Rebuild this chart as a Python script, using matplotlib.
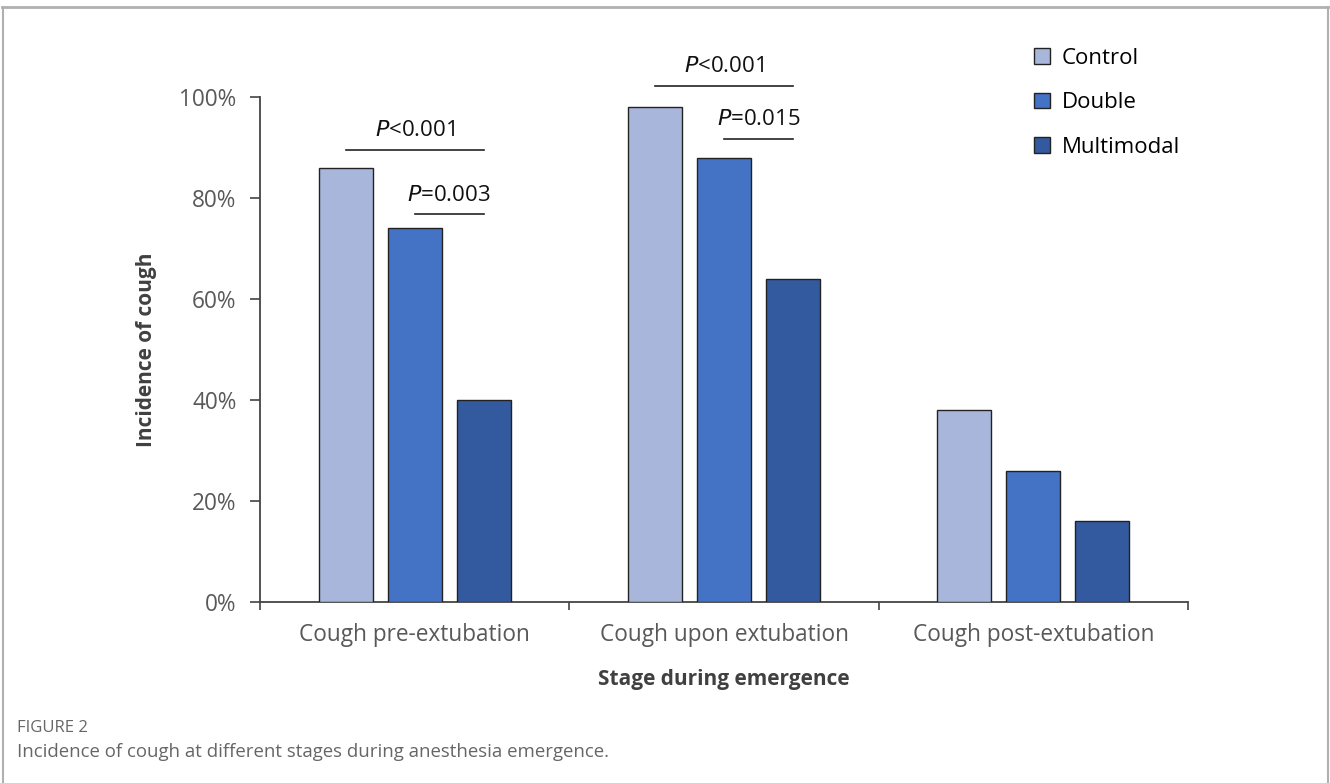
import matplotlib
matplotlib.use("Agg")
import matplotlib.pyplot as plt
from matplotlib.lines import Line2D
from matplotlib.patches import Patch
import numpy as np

categories = ["Cough pre-extubation", "Cough upon extubation", "Cough post-extubation"]
series_names = ["Control", "Double", "Multimodal"]
control = [86, 98, 38]
double = [74, 88, 26]
multimodal = [40, 64, 16]
yticks = [0, 20, 40, 60, 80, 100]
ytick_labels = ["0%", "20%", "40%", "60%", "80%", "100%"]
colors = ["#a9b6dc", "#4472c4", "#335a9e"]

# significance annotations: (category index, series from, series to, label, height)
sig = [
    (0, 0, 2, "<0.001", 89.5),
    (0, 1, 2, "=0.003", 76.8),
    (1, 0, 2, "<0.001", 102.2),
    (1, 1, 2, "=0.015", 91.7),
]

plt.rcParams['font.family'] = ['Open Sans', 'DejaVu Sans']

fig = plt.figure(figsize=(13.3, 7.83), dpi=100)
ax = fig.add_axes([260/1330, 1-602/783, (1188-260)/1330, (602-97)/783])

x = np.arange(len(categories))
w = 0.175
off = 0.223
data = [control, double, multimodal]
for i, (vals, c, name) in enumerate(zip(data, colors, series_names)):
    ax.bar(x + (i-1)*off, vals, width=w, color=c, edgecolor="#222222", linewidth=1.0, label=name, zorder=3)

ax.set_xlim(-0.5, 2.5)
ax.set_ylim(0, 100)
ax.set_yticks(yticks)
ax.set_yticklabels(ytick_labels, fontsize=16.3, color="#595959")
ax.set_xticks(x)
ax.set_xticklabels(categories, fontsize=16.3, color="#595959")
ax.tick_params(axis='x', length=0, pad=15)
ax.tick_params(axis='y', length=7, width=1.2, color="#444444", pad=10)
ax.set_xticks([-0.5, 0.5, 1.5, 2.5], minor=True)
ax.tick_params(axis='x', which='minor', length=6, width=1.2, color="#444444", direction='out')

for s in ["top", "right"]:
    ax.spines[s].set_visible(False)
for s in ["left", "bottom"]:
    ax.spines[s].set_color("#444444")
    ax.spines[s].set_linewidth(1.3)

ax.set_ylabel("Incidence of cough", fontsize=15, fontweight="bold", color="#404040", labelpad=16)
ax.set_xlabel("Stage during emergence", fontsize=15, fontweight="bold", color="#404040", labelpad=16)

for cat, s0, s1, rest, h in sig:
    x0 = cat + (s0-1)*off
    x1 = cat + (s1-1)*off
    ax.plot([x0, x1], [h, h], color="#222222", lw=1.2, clip_on=False, zorder=4)
    ax.annotate(r"$\mathit{P}$" + rest, xy=((x0+x1)/2, h + 1.7), ha="center", va="bottom",
                fontsize=16, color="#111111", annotation_clip=False)

# legend
handles = [Patch(facecolor=c, edgecolor="#222222", linewidth=1.0) for c in colors]
fig.legend(handles, series_names, loc="upper left", bbox_to_anchor=(1014/1330, 1-28/783),
           frameon=False, fontsize=16, handlelength=0.7, handleheight=0.7,
           labelspacing=1.05, handletextpad=0.55)

# frame
fig.add_artist(Line2D([2/1330, 1328/1330], [1-6.5/783, 1-6.5/783], color="#b0b0b0", lw=2))
fig.add_artist(Line2D([2.5/1330, 2.5/1330], [0, 1-6.5/783], color="#b0b0b0", lw=1.5))
fig.add_artist(Line2D([1328/1330, 1328/1330], [0, 1-6.5/783], color="#b0b0b0", lw=1.5))

fig.text(17/1330, 1-728/783, "FIGURE 2", fontsize=12, color="#666666", va="center")
fig.text(17/1330, 1-752/783, "Incidence of cough at different stages during anesthesia emergence.",
         fontsize=13.4, color="#666666", va="center")

fig.savefig("out.png", dpi=100)
